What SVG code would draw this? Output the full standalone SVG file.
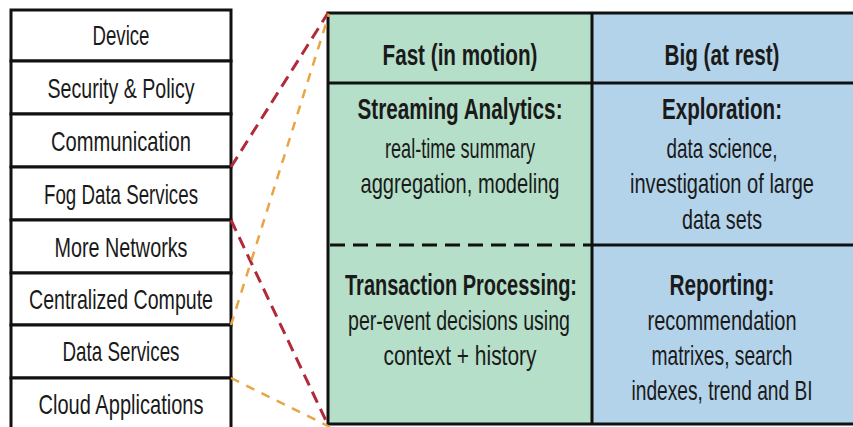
<svg xmlns="http://www.w3.org/2000/svg" width="853" height="427" viewBox="0 0 853 427">
<style>
.box{fill:#fff;stroke:#111;stroke-width:3}
.t{font-family:"Liberation Sans",Arial,sans-serif;font-size:28px;fill:#1a1a1a;text-anchor:middle}
.b{font-family:"Liberation Sans",Arial,sans-serif;font-size:29px;font-weight:bold;fill:#1a1a1a;text-anchor:middle}
.red{fill:none;stroke:#b22a3a;stroke-width:3;stroke-dasharray:12 7}
.org{fill:none;stroke:#e9a444;stroke-width:2.5;stroke-dasharray:9 8}
.ln{stroke:#111;stroke-width:3}
</style>
<rect width="853" height="427" fill="#fff"/>
<g id="stack">
<g id="device"><rect class="box" x="11" y="10" width="220" height="51"/><text class="t" transform="translate(121,45) scale(0.7,1)" textLength="81.4" lengthAdjust="spacingAndGlyphs">Device</text></g>
<g id="security"><rect class="box" x="11" y="61" width="220" height="53"/><text class="t" transform="translate(121,98) scale(0.7,1)" textLength="210" lengthAdjust="spacingAndGlyphs">Security &amp; Policy</text></g>
<g id="communication"><rect class="box" x="11" y="114" width="220" height="53"/><text class="t" transform="translate(121,151) scale(0.7,1)" textLength="200" lengthAdjust="spacingAndGlyphs">Communication</text></g>
<g id="fog"><rect class="box" x="11" y="167" width="220" height="53"/><text class="t" transform="translate(121,204) scale(0.7,1)" textLength="220" lengthAdjust="spacingAndGlyphs">Fog Data Services</text></g>
<g id="networks"><rect class="box" x="11" y="220" width="220" height="53"/><text class="t" transform="translate(121,257) scale(0.7,1)" textLength="190" lengthAdjust="spacingAndGlyphs">More Networks</text></g>
<g id="compute"><rect class="box" x="11" y="273" width="220" height="52"/><text class="t" transform="translate(121,309) scale(0.7,1)" textLength="262.9" lengthAdjust="spacingAndGlyphs">Centralized Compute</text></g>
<g id="dataservices"><rect class="box" x="11" y="325" width="220" height="53"/><text class="t" transform="translate(121,361) scale(0.7,1)" textLength="167.1" lengthAdjust="spacingAndGlyphs">Data Services</text></g>
<g id="cloud"><rect class="box" x="11" y="378" width="220" height="53"/><text class="t" transform="translate(121,414) scale(0.7,1)" textLength="235.7" lengthAdjust="spacingAndGlyphs">Cloud Applications</text></g>
</g>
<g id="table">
<rect x="328" y="13" width="264" height="411" fill="#b5dfc8"/>
<rect x="592" y="13" width="261" height="411" fill="#b3d3ea"/>
<path class="ln" fill="none" d="M853,13 H328 V424 H853"/>
<line class="ln" x1="592" y1="13" x2="592" y2="424"/>
<line class="ln" x1="328" y1="83" x2="853" y2="83"/>
<line class="ln" x1="592" y1="245" x2="853" y2="245"/>
<line x1="330" y1="245" x2="592" y2="245" stroke="#111" stroke-width="3" stroke-dasharray="15 8"/>
<g id="fast-header"><text class="b" transform="translate(460,65) scale(0.7,1)" textLength="221.4" lengthAdjust="spacingAndGlyphs">Fast (in motion)</text></g>
<g id="big-header"><text class="b" transform="translate(722,65) scale(0.7,1)" textLength="164.3" lengthAdjust="spacingAndGlyphs">Big (at rest)</text></g>
<g id="streaming">
<text class="b" transform="translate(460,119) scale(0.7,1)" textLength="292.9" lengthAdjust="spacingAndGlyphs">Streaming Analytics:</text>
<text class="t" transform="translate(460,158) scale(0.7,1)" textLength="214.3" lengthAdjust="spacingAndGlyphs">real-time summary</text>
<text class="t" transform="translate(460,193) scale(0.7,1)" textLength="284.3" lengthAdjust="spacingAndGlyphs">aggregation, modeling</text>
</g>
<g id="exploration">
<text class="b" transform="translate(722,119) scale(0.7,1)" textLength="171.4" lengthAdjust="spacingAndGlyphs">Exploration:</text>
<text class="t" transform="translate(722,158) scale(0.7,1)" textLength="158.6" lengthAdjust="spacingAndGlyphs">data science,</text>
<text class="t" transform="translate(722,193) scale(0.7,1)" textLength="262.9" lengthAdjust="spacingAndGlyphs">investigation of large</text>
<text class="t" transform="translate(722,229) scale(0.7,1)" textLength="114.3" lengthAdjust="spacingAndGlyphs">data sets</text>
</g>
<g id="transaction">
<text class="b" transform="translate(461,295) scale(0.7,1)" textLength="331.4" lengthAdjust="spacingAndGlyphs">Transaction Processing:</text>
<text class="t" transform="translate(459,330) scale(0.7,1)" textLength="317.1" lengthAdjust="spacingAndGlyphs">per-event decisions using</text>
<text class="t" transform="translate(460,365) scale(0.7,1)" textLength="218.6" lengthAdjust="spacingAndGlyphs">context + history</text>
</g>
<g id="reporting">
<text class="b" transform="translate(722,295) scale(0.7,1)" textLength="150" lengthAdjust="spacingAndGlyphs">Reporting:</text>
<text class="t" transform="translate(722,330) scale(0.7,1)" textLength="212.9" lengthAdjust="spacingAndGlyphs">recommendation</text>
<text class="t" transform="translate(722,365) scale(0.7,1)" textLength="201.4" lengthAdjust="spacingAndGlyphs">matrixes, search</text>
<text class="t" transform="translate(722,400) scale(0.7,1)" textLength="258.6" lengthAdjust="spacingAndGlyphs">indexes, trend and BI</text>
</g>
</g>
<g id="connectors">
<line class="red" x1="231" y1="167" x2="328" y2="13"/>
<line class="red" x1="231" y1="220" x2="328" y2="425"/>
<line class="org" x1="231" y1="325" x2="329" y2="14"/>
<line class="org" x1="231" y1="378" x2="330" y2="427"/>
</g>
</svg>
